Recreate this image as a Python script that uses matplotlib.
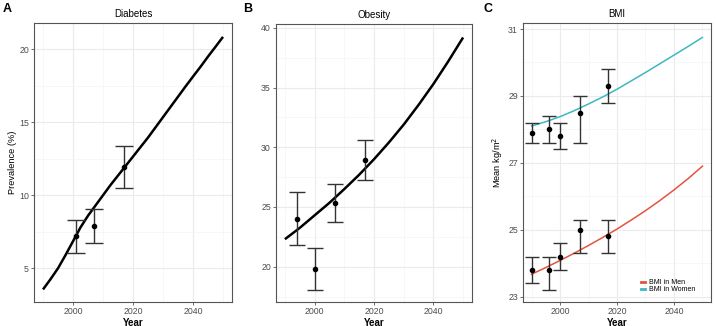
import matplotlib.pyplot as plt
import numpy as np

plt.rcParams['font.family'] = ['Liberation Sans', 'DejaVu Sans']

# model curves, read every 2.5 / 5 years
diab_years = [1990, 1992.5, 1995, 1997.5, 2000, 2002.5, 2005, 2007.5, 2010, 2012.5,
              2015, 2017.5, 2020, 2022.5, 2025, 2027.5, 2030, 2032.5, 2035, 2037.5,
              2040, 2042.5, 2045, 2047.5, 2050]
diab_curve = [3.55, 4.25, 5.0, 5.9, 6.85, 7.8, 8.6, 9.3, 10.0, 10.7,
              11.35, 12.0, 12.65, 13.3, 13.95, 14.65, 15.35, 16.05, 16.75, 17.45,
              18.13, 18.8, 19.5, 20.17, 20.85]

curve_years = [1990, 1995, 2000, 2005, 2010, 2015, 2020, 2025, 2030, 2035, 2040, 2045, 2050]
obes_curve = [22.3, 23.25, 24.3, 25.35, 26.5, 27.7, 29.0, 30.4, 31.9, 33.55, 35.3, 37.2, 39.2]
bmi_men_curve = [23.67, 23.87, 24.08, 24.3, 24.53, 24.77, 25.02, 25.29, 25.57, 25.87, 26.19, 26.53, 26.9]
bmi_women_curve = [28.1, 28.23, 28.38, 28.56, 28.76, 28.97, 29.2, 29.45, 29.7, 29.96, 30.22, 30.48, 30.75]

# observed survey points with intervals
diab_obs_years = [2001, 2007, 2017]
diab_obs = [7.2, 7.9, 11.95]
diab_lo = [6.03, 6.72, 10.52]
diab_hi = [8.28, 9.08, 13.4]

obes_obs_years = [1994, 2000, 2007, 2017]
obes_obs = [24.0, 19.8, 25.35, 28.92]
obes_lo = [21.8, 18.05, 23.75, 27.25]
obes_hi = [26.25, 21.57, 26.95, 30.62]

bmi_obs_years = [1990, 1996, 2000, 2007, 2017]
men_obs = [23.8, 23.8, 24.2, 25.0, 24.8]
men_lo = [23.4, 23.2, 23.8, 24.3, 24.3]
men_hi = [24.2, 24.2, 24.6, 25.3, 25.3]
women_obs = [27.9, 28.0, 27.8, 28.5, 29.3]
women_lo = [27.6, 27.6, 27.4, 27.6, 28.8]
women_hi = [28.2, 28.4, 28.2, 29.0, 29.8]

men_color = '#E5533F'
women_color = '#3DB7C2'

W, H = 716, 326
fig = plt.figure(figsize=(W / 100, H / 100), dpi=100)


def make_ax(left, right, top=23, bottom=302):
    ax = fig.add_axes([left / W, 1 - bottom / H, (right - left) / W, (bottom - top) / H])
    for s in ax.spines.values():
        s.set_color('#555555')
        s.set_linewidth(0.8)
    ax.set_axisbelow(True)
    ax.grid(True, which='major', color='#EBEBEB', linewidth=0.8)
    ax.grid(True, which='minor', color='#F4F4F4', linewidth=0.5)
    ax.tick_params(which='major', length=2.2, width=0.6, color='#555555',
                   labelsize=6.3, labelcolor='#4D4D4D', pad=1.5)
    ax.tick_params(which='minor', length=0)
    ax.set_xlim(1987, 2053)
    ax.set_xticks([2000, 2020, 2040])
    ax.set_xticks([1990, 2010, 2030, 2050], minor=True)
    ax.set_xlabel('Year', fontsize=7, fontweight='bold', labelpad=1)
    return ax


def draw_obs(ax, x, y, lo, hi, cap):
    y = np.array(y)
    yerr = [y - np.array(lo), np.array(hi) - y]
    ax.errorbar(x, y, yerr=yerr, fmt='none', ecolor='#333333', elinewidth=1.0,
                capsize=cap, capthick=1.0, zorder=3)
    ax.plot(x, y, 'o', color='black', markersize=3, zorder=4)


# A: diabetes
axA = make_ax(34, 232)
axA.plot(diab_years, diab_curve, color='black', linewidth=1.8, solid_capstyle='butt')
draw_obs(axA, diab_obs_years, diab_obs, diab_lo, diab_hi, 6.5)
axA.set_ylim(2.69, 21.8)
axA.set_yticks([5, 10, 15, 20])
axA.set_yticks([7.5, 12.5, 17.5], minor=True)
axA.set_ylabel('Prevalence (%)', fontsize=6.7, labelpad=1.5)
axA.set_title('Diabetes', fontsize=7, pad=4)

# B: obesity
axB = make_ax(276, 472, top=24)
axB.plot(curve_years, obes_curve, color='black', linewidth=1.8, solid_capstyle='butt')
draw_obs(axB, obes_obs_years, obes_obs, obes_lo, obes_hi, 6)
axB.set_ylim(17.04, 40.33)
axB.set_yticks([20, 25, 30, 35, 40])
axB.set_yticks([17.5, 22.5, 27.5, 32.5, 37.5], minor=True)
axB.set_title('Obesity', fontsize=7, pad=4)

# C: BMI
axC = make_ax(523, 711)
axC.plot(curve_years, bmi_men_curve, color=men_color, linewidth=1.1, label='BMI in Men')
axC.plot(curve_years, bmi_women_curve, color=women_color, linewidth=1.1, label='BMI in Women')
draw_obs(axC, bmi_obs_years, men_obs, men_lo, men_hi, 4.8)
draw_obs(axC, bmi_obs_years, women_obs, women_lo, women_hi, 4.8)
axC.set_ylim(22.84, 31.18)
axC.set_yticks([23, 25, 27, 29, 31])
axC.set_yticks([24, 26, 28, 30], minor=True)
axC.set_ylabel('Mean kg/m$^2$', fontsize=6.7, labelpad=2)
axC.set_title('BMI', fontsize=7, pad=4)
leg = axC.legend(loc='lower right', bbox_to_anchor=(0.95, 0.01), fontsize=5, frameon=False,
                 handlelength=0.5, handletextpad=0.6, labelspacing=0.0)
for h in leg.get_lines():
    h.set_linewidth(2)

for x, letter in [(3, 'A'), (243, 'B'), (483, 'C')]:
    fig.text(x / W, 1 - 9 / H, letter, fontsize=9, fontweight='bold', va='center', ha='left')

fig.savefig('out.png', dpi=100)
